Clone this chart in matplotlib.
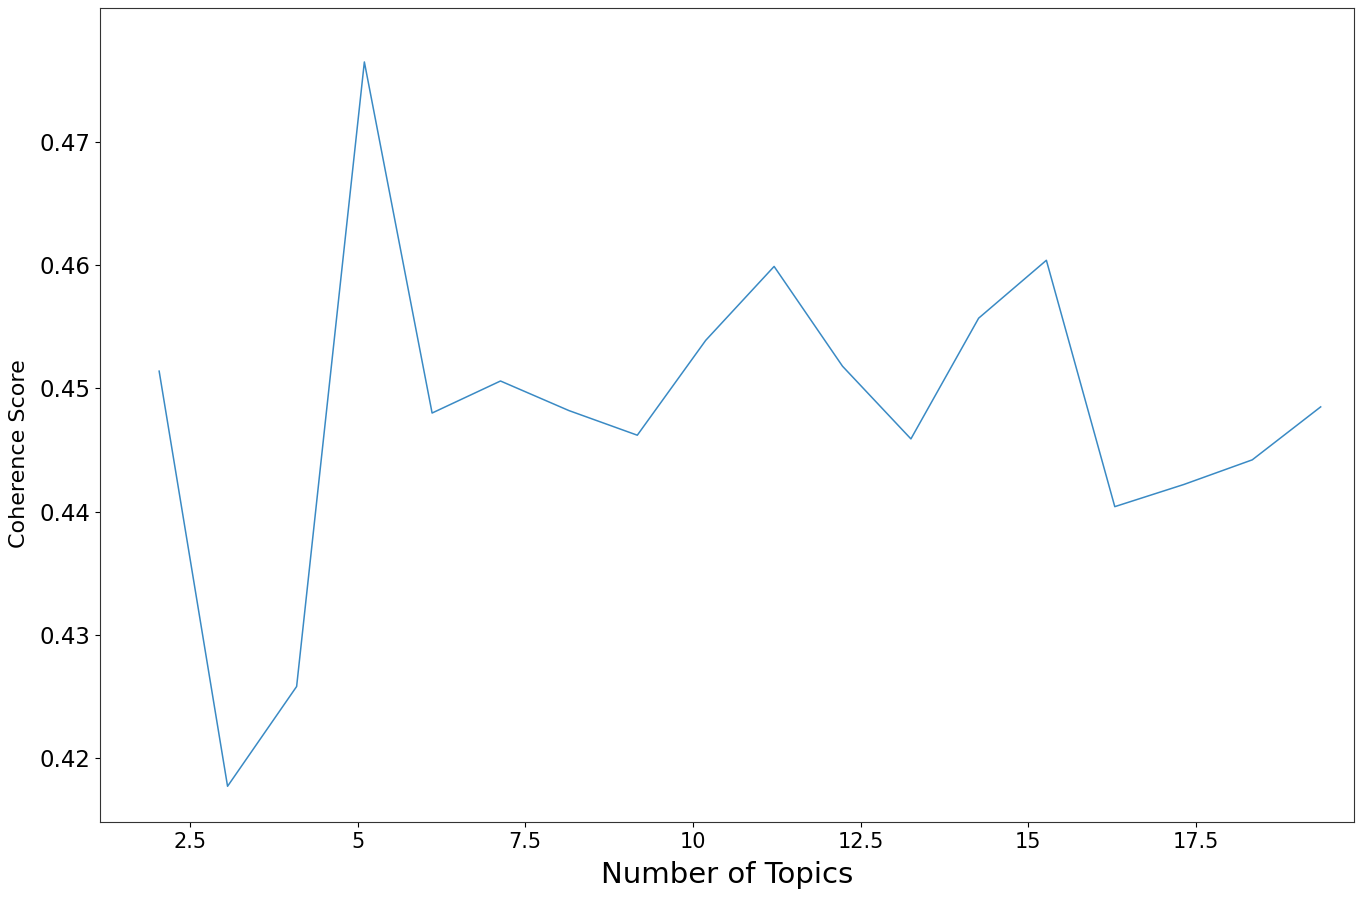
import matplotlib
matplotlib.use("Agg")
import matplotlib.pyplot as plt

# Number of topics (positions)
num_topics = [2.04, 3.06, 4.09, 5.10, 6.11, 7.13, 8.15, 9.17, 10.19,
              11.21, 12.23, 13.25, 14.26, 15.27, 16.29, 17.32, 18.34, 19.36]
# Coherence scores
coherence = [0.4514, 0.4177, 0.4258, 0.4765, 0.4480, 0.4506, 0.4482, 0.4462,
             0.4539, 0.4599, 0.4518, 0.4459, 0.4557, 0.4604, 0.4404, 0.4422,
             0.4442, 0.4485]

x_ticks = [2.5, 5, 7.5, 10, 12.5, 15, 17.5]
x_tick_labels = ["2.5", "5", "7.5", "10", "12.5", "15", "17.5"]
y_ticks = [0.42, 0.43, 0.44, 0.45, 0.46, 0.47]
y_tick_labels = ["0.42", "0.43", "0.44", "0.45", "0.46", "0.47"]

fig = plt.figure(figsize=(13.6, 9.08), dpi=100)
ax = fig.add_axes([100 / 1360, 1 - 822 / 908, 1254 / 1360, 814 / 908])
ax.plot(num_topics, coherence, color="#3a8ac4", linewidth=1.1)

ax.set_xlim(1.158, 19.857)
ax.set_ylim(0.4148, 0.48088)
ax.set_xticks(x_ticks)
ax.set_xticklabels(x_tick_labels, fontsize=15)
ax.set_yticks(y_ticks)
ax.set_yticklabels(y_tick_labels, fontsize=16.5)
ax.set_xlabel("Number of Topics", fontsize=21, labelpad=7)
ax.set_ylabel("Coherence Score", fontsize=16)
ax.yaxis.set_label_coords(-0.057, 0.453)
for s in ax.spines.values():
    s.set_color("#333333")

fig.savefig("out.png", dpi=100)
